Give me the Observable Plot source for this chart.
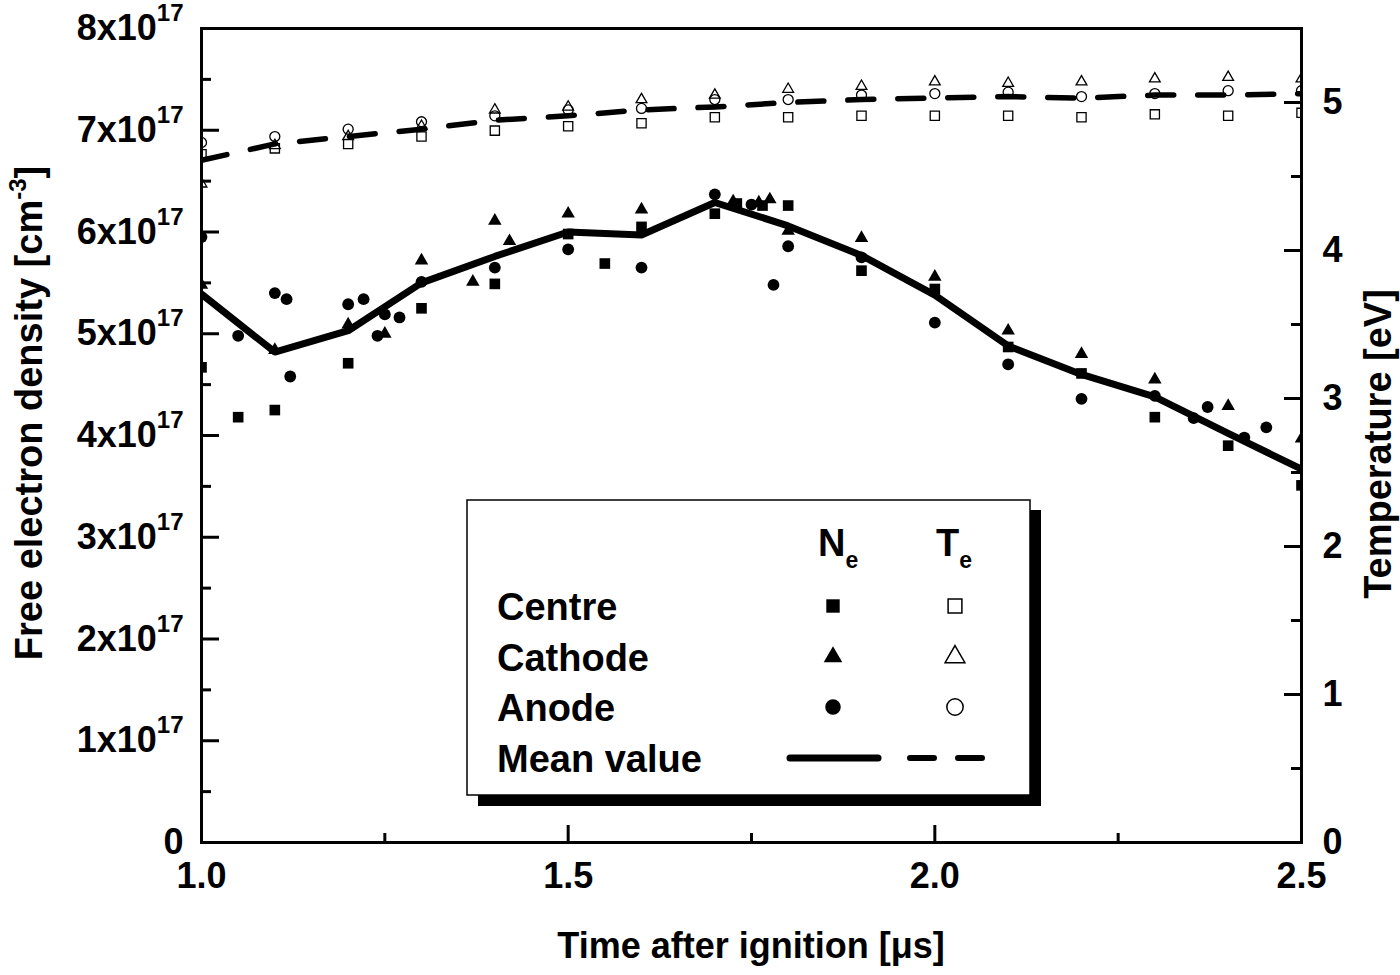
<!DOCTYPE html>
<html>
<head>
<meta charset="utf-8">
<script src="https://cdn.jsdelivr.net/npm/d3@7"></script>
<script src="https://cdn.jsdelivr.net/npm/@observablehq/plot@0.6"></script>
<style>
  body { margin: 0; background: white; }
  #chart { width: 1400px; height: 975px; }
</style>
</head>
<body>
<div id="chart"></div>
<script>
// mean values, every 0.1 us
const meanTime = [1.0, 1.1, 1.2, 1.3, 1.4, 1.5, 1.6, 1.7, 1.8, 1.9, 2.0, 2.1, 2.2, 2.3, 2.4, 2.5];
const neMean = [5.39, 4.82, 5.03, 5.50, 5.76, 6.00, 5.97, 6.29, 6.06, 5.77, 5.38, 4.88, 4.60, 4.38, 4.02, 3.67];
const teMean = [4.61, 4.72, 4.77, 4.82, 4.88, 4.91, 4.95, 4.97, 5.00, 5.02, 5.03, 5.04, 5.03, 5.05, 5.05, 5.06];

// temperature (eV), same times as the means
const teCentre  = [4.65, 4.69, 4.72, 4.77, 4.81, 4.84, 4.86, 4.90, 4.90, 4.91, 4.91, 4.91, 4.90, 4.92, 4.91, 4.93];
const teCathode = [4.45, 4.71, 4.77, 4.84, 4.95, 4.97, 5.02, 5.05, 5.09, 5.11, 5.14, 5.13, 5.14, 5.16, 5.17, 5.16];
const teAnode   = [4.73, 4.77, 4.82, 4.87, 4.91, 4.95, 4.96, 5.02, 5.02, 5.05, 5.06, 5.07, 5.04, 5.06, 5.08, 5.08];

// electron density (x10^17 cm^-3)
const neCentreTime = [1.0, 1.05, 1.1, 1.2, 1.3, 1.4, 1.5, 1.55, 1.6, 1.7, 1.73, 1.765, 1.8, 1.9, 2.0, 2.1, 2.2, 2.3, 2.4, 2.5];
const neCentre     = [4.67, 4.18, 4.25, 4.71, 5.25, 5.49, 5.98, 5.69, 6.05, 6.18, 6.28, 6.26, 6.26, 5.62, 5.44, 4.87, 4.61, 4.18, 3.90, 3.51];
const neCathodeTime = [1.0, 1.1, 1.2, 1.25, 1.3, 1.37, 1.4, 1.42, 1.5, 1.6, 1.725, 1.76, 1.775, 1.8, 1.9, 2.0, 2.1, 2.2, 2.3, 2.4, 2.5];
const neCathode     = [5.48, 4.84, 5.09, 5.00, 5.72, 5.51, 6.11, 5.91, 6.18, 6.22, 6.30, 6.29, 6.32, 6.01, 5.94, 5.56, 5.03, 4.80, 4.55, 4.29, 3.97];
const neAnodeTime = [1.0, 1.05, 1.1, 1.116, 1.121, 1.2, 1.221, 1.24, 1.25, 1.27, 1.3, 1.4, 1.5, 1.6, 1.7, 1.75, 1.78, 1.8, 1.9, 2.0, 2.1, 2.2, 2.3, 2.353, 2.372, 2.422, 2.452];
const neAnode     = [5.95, 4.98, 5.40, 5.34, 4.58, 5.29, 5.34, 4.98, 5.19, 5.16, 5.51, 5.65, 5.83, 5.65, 6.37, 6.27, 5.48, 5.86, 5.75, 5.11, 4.70, 4.36, 4.39, 4.17, 4.28, 3.98, 4.08];

// axis ticks
const xMajor = [1.0, 1.5, 2.0, 2.5];
const xMinor = [1.25, 1.75, 2.25];
const neMajor = [0, 1, 2, 3, 4, 5, 6, 7, 8];
const neMinor = [0.5, 1.5, 2.5, 3.5, 4.5, 5.5, 6.5, 7.5];
const teMajor = [0, 1, 2, 3, 4, 5];
const teMinor = [0.5, 1.5, 2.5, 3.5, 4.5];

// right axis 0..5.5 eV sits on the same pixels as 0..8
const K = 8 / 5.5;

const pts = (ts, vs) => ts.map((t, i) => ({t, v: vs[i]}));
const meanRows = meanTime.map((t, i) => ({t, ne: neMean[i], te: teMean[i] * K}));

const W = 1100, H = 814;

let chart = Plot.plot({
    width: 1400,
    height: 975,
    marginLeft: 201,
    marginRight: 99,
    marginTop: 28,
    marginBottom: 133,
    x: { domain: [1.0, 2.5] },
    y: { domain: [0, 8] },
    style: {
        fontFamily: "'Liberation Sans', Arial, sans-serif",
        fontWeight: "bold",
        fontSize: "36px",
        color: "black",
        background: "white"
    },
    marks: [
        // tick labels
        Plot.axisX({ ticks: xMajor, tickFormat: d3.format(".1f"), tickSize: 0, tickPadding: 20, label: null }),
        Plot.axisY({ ticks: neMajor, tickFormat: d => d === 0 ? "0" : `${d}x10|17`, tickSize: 0, tickPadding: 18, label: null }),
        Plot.axisY({ anchor: "right", ticks: teMajor.map(d => d * K), tickFormat: d => String(Math.round(d / K)), tickSize: 0, tickPadding: 21, label: null }),

        // inward ticks
        Plot.tickX(xMajor, { x: d => d, insetTop: H - 17, strokeWidth: 3 }),
        Plot.tickX(xMinor, { x: d => d, insetTop: H - 9, strokeWidth: 3 }),
        Plot.tickY(neMajor, { y: d => d, insetRight: W - 18, strokeWidth: 3 }),
        Plot.tickY(neMinor, { y: d => d, insetRight: W - 10, strokeWidth: 3 }),
        Plot.tickY(teMajor, { y: d => d * K, insetLeft: W - 17, strokeWidth: 3 }),
        Plot.tickY(teMinor, { y: d => d * K, insetLeft: W - 10, strokeWidth: 3 }),

        // mean values
        Plot.line(meanRows, { x: "t", y: "ne", stroke: "black", strokeWidth: 7, clip: true }),
        Plot.line(meanRows, { x: "t", y: "te", stroke: "black", strokeWidth: 5.5, strokeDasharray: "26,24", clip: true }),

        // Te, open symbols
        Plot.dot(pts(meanTime, teCentre), { x: "t", y: d => d.v * K, symbol: "square", r: 5.2, stroke: "black", strokeWidth: 1.3, fill: "none", clip: true }),
        Plot.dot(pts(meanTime, teCathode), { x: "t", y: d => d.v * K, symbol: "triangle", r: 4, stroke: "black", strokeWidth: 1.3, fill: "none", clip: true }),
        Plot.dot(pts(meanTime, teAnode), { x: "t", y: d => d.v * K, symbol: "circle", r: 5, stroke: "black", strokeWidth: 1.3, fill: "none", clip: true }),

        // Ne, filled symbols
        Plot.dot(pts(neCentreTime, neCentre), { x: "t", y: "v", symbol: "square", r: 6, fill: "black", clip: true }),
        Plot.dot(pts(neCathodeTime, neCathode), { x: "t", y: "v", symbol: "triangle", r: 5, fill: "black", clip: true }),
        Plot.dot(pts(neAnodeTime, neAnode), { x: "t", y: "v", symbol: "circle", r: 5.9, fill: "black", clip: true }),

        Plot.frame({ stroke: "black", strokeWidth: 3 })
    ]
})

const svg = d3.select(chart);

// superscripts on the density tick labels
svg.selectAll("text").each(function () {
    const s = this.textContent;
    if (s.includes("|")) {
        const [a, b] = s.split("|");
        const t = d3.select(this).text(a);
        t.append("tspan").attr("dy", -19).attr("font-size", "24px").text(b);
    }
});

// axis titles
const left = svg.append("text")
    .attr("transform", "translate(42,413) rotate(-90)")
    .attr("text-anchor", "middle")
    .attr("font-size", "38px");
left.append("tspan").text("Free electron density [cm");
left.append("tspan").attr("dy", -16).attr("font-size", "24px").text("-3");
left.append("tspan").attr("dy", 16).text("]");

svg.append("text")
    .attr("transform", "translate(1391,444) rotate(-90)")
    .attr("text-anchor", "middle")
    .attr("font-size", "38px")
    .text("Temperature [eV]");

svg.append("text")
    .attr("x", 751).attr("y", 958)
    .attr("text-anchor", "middle")
    .attr("font-size", "36px")
    .text("Time after ignition [μs]");

// legend box with drop shadow
const lg = svg.append("g").attr("text-anchor", "start");
lg.append("rect").attr("x", 478).attr("y", 510).attr("width", 563).attr("height", 296).attr("fill", "black");
lg.append("rect").attr("x", 467).attr("y", 500).attr("width", 563).attr("height", 295)
    .attr("fill", "white").attr("stroke", "black").attr("stroke-width", 1.5);

const head = (x, letter) => {
    const t = lg.append("text").attr("x", x).attr("y", 556).attr("font-size", "38px");
    t.append("tspan").text(letter);
    t.append("tspan").attr("dy", 12).attr("font-size", "23px").text("e");
};
head(818, "N");
head(936, "T");

const rows = ["Centre", "Cathode", "Anode", "Mean value"];
const rowY = [606, 657, 707, 758];
rows.forEach((r, i) => {
    lg.append("text").attr("x", 497).attr("y", rowY[i]).attr("dy", "0.36em").attr("font-size", "38px").text(r);
});

const sym = (type, size) => d3.symbol(type, size)();
const glyphs = [[d3.symbolSquare, 180, 190], [d3.symbolTriangle, 150, 170], [d3.symbolCircle, 190, 210]];
glyphs.forEach(([type, a, b], i) => {
    lg.append("path").attr("d", sym(type, a)).attr("transform", `translate(833,${rowY[i]})`).attr("fill", "black");
    lg.append("path").attr("d", sym(type, b)).attr("transform", `translate(955,${rowY[i]})`)
        .attr("fill", "none").attr("stroke", "black").attr("stroke-width", 1.5);
});
lg.append("line").attr("x1", 790).attr("x2", 878).attr("y1", 758).attr("y2", 758)
    .attr("stroke", "black").attr("stroke-width", 7).attr("stroke-linecap", "round");
lg.append("line").attr("x1", 910).attr("x2", 986).attr("y1", 758).attr("y2", 758)
    .attr("stroke", "black").attr("stroke-width", 6).attr("stroke-linecap", "round")
    .attr("stroke-dasharray", "24,24");

d3.select('#chart').append(() => chart)
</script>
</body>
</html>
